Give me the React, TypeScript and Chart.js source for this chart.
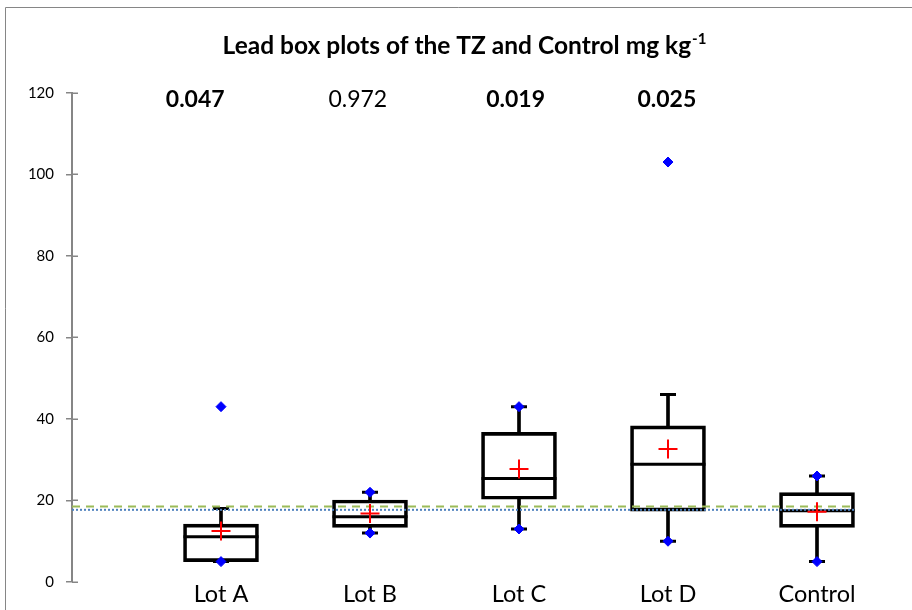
import React, { useEffect, useRef } from 'react';
import { Chart, registerables } from 'chart.js';

Chart.register(...registerables);

// ---- Data ----
const categories = ['Lot A', 'Lot B', 'Lot C', 'Lot D', 'Control'];
const q1 = [5, 13.4, 20.3, 17.4, 13.4];
const medians = [11.1, 16.0, 25.4, 28.9, 17.5];
const q3 = [14.2, 20.1, 36.7, 38.3, 21.9];
const whiskerLow = [5, 12, 13, 10, 5];
const whiskerHigh = [18, 22, 43, 46, 26];
const means = [12.5, 16.8, 27.7, 32.6, 17.2];
const minPoints = [5, 12, 13, 10, 5];
const maxPoints = [43, 22, 43, 103, 26];
const pValues = ['0.047', '0.972', '0.019', '0.025'];
const pSignificant = [true, false, true, true];
const refGreen = 18.5;
const refBlue = 17.7;
const refSpan = [0, 5.25];

const TITLE = 'Lead box plots of the TZ and Control mg kg';
const TITLE_SUP = '-1';
const FONT = 'Lato, "Open Sans", sans-serif';

const xy = (arr: number[]) => arr.map((v, i) => ({ x: i + 1, y: v }));
const range = (a: number[], b: number[]) => a.map((v, i) => ({ x: i + 1, y: [v, b[i]] }));

const decorPlugin = {
  id: 'decor',
  beforeDraw(chart: any) {
    const ctx = chart.ctx;
    ctx.save();
    ctx.fillStyle = '#ffffff';
    ctx.fillRect(0, 0, chart.width, chart.height);
    // outer chart frame (top and left edges visible)
    ctx.strokeStyle = '#868686';
    ctx.lineWidth = 1;
    ctx.beginPath();
    ctx.moveTo(5.5, chart.height);
    ctx.lineTo(5.5, 7.5);
    ctx.lineTo(chart.width, 7.5);
    ctx.stroke();
    ctx.restore();
  },
  afterDatasetsDraw(chart: any) {
    const ctx = chart.ctx;
    const xs = chart.scales.x;
    const ys = chart.scales.y;
    ctx.save();
    // inner half of the crossing tick marks
    ctx.strokeStyle = '#868686';
    ctx.lineWidth = 1.5;
    ys.ticks.forEach((t: any) => {
      const py = Math.round(ys.getPixelForValue(t.value)) + 0.25;
      ctx.beginPath();
      ctx.moveTo(xs.left, py);
      ctx.lineTo(xs.left + 6, py);
      ctx.stroke();
    });

    // title with superscript
    ctx.fillStyle = '#000000';
    ctx.textBaseline = 'alphabetic';
    ctx.textAlign = 'left';
    ctx.font = `bold 24.5px ${FONT}`;
    const w1 = ctx.measureText(TITLE).width;
    ctx.font = `bold 15px ${FONT}`;
    const w2 = ctx.measureText(TITLE_SUP).width;
    const start = 464 - (w1 + w2) / 2;
    ctx.font = `bold 24.5px ${FONT}`;
    ctx.fillText(TITLE, start, 53.5);
    ctx.font = `bold 15px ${FONT}`;
    ctx.fillText(TITLE_SUP, start + w1 + 1, 44);

    // p-value annotations above the boxes
    const offsets = [-0.173, -0.082, -0.023, -0.008];
    ctx.textAlign = 'center';
    pValues.forEach((p, i) => {
      ctx.font = `${pSignificant[i] ? 'bold ' : ''}23px ${FONT}`;
      const px = xs.getPixelForValue(i + 1 + offsets[i]);
      const py = ys.getPixelForValue(116.4);
      ctx.fillText(p, px, py);
    });
    ctx.restore();
  },
};

export default function App() {
  const canvasRef = useRef<HTMLCanvasElement | null>(null);

  useEffect(() => {
    document.body.style.margin = '0';
    const canvas = canvasRef.current;
    if (!canvas) return;
    const chart = new Chart(canvas, {
      type: 'bar',
      data: {
        datasets: [
          {
            type: 'bar',
            label: 'Box',
            data: range(q1, q3) as any,
            backgroundColor: 'rgba(0,0,0,0)',
            borderColor: '#000000',
            borderWidth: 3,
            borderSkipped: false,
            barThickness: 75,
            grouped: false,
            order: 6,
          } as any,
          {
            type: 'bar',
            label: 'Lower whisker',
            data: range(whiskerLow, q1) as any,
            backgroundColor: '#000000',
            borderWidth: 0,
            barThickness: 3,
            grouped: false,
            order: 6,
          } as any,
          {
            type: 'bar',
            label: 'Upper whisker',
            data: range(q3, whiskerHigh) as any,
            backgroundColor: '#000000',
            borderWidth: 0,
            barThickness: 3,
            grouped: false,
            order: 6,
          } as any,
          {
            type: 'scatter',
            label: 'Median',
            data: xy(medians),
            pointStyle: 'line',
            pointRadius: 37.5,
            pointBorderColor: '#000000',
            pointBorderWidth: 3,
            order: 5,
          } as any,
          {
            type: 'scatter',
            label: 'Whisker caps',
            data: [...xy(whiskerLow), ...xy(whiskerHigh)],
            pointStyle: 'line',
            pointRadius: 8,
            pointBorderColor: '#000000',
            pointBorderWidth: 3,
            order: 4,
          } as any,
          {
            type: 'line',
            label: 'Reference (dashed)',
            data: refSpan.map((x) => ({ x, y: refGreen })),
            borderColor: '#9BBB59',
            borderWidth: 2,
            borderDash: [8, 6],
            pointRadius: 0,
            order: 3,
          } as any,
          {
            type: 'line',
            label: 'Reference (dotted)',
            data: refSpan.map((x) => ({ x, y: refBlue })),
            borderColor: '#4F81BD',
            borderWidth: 2,
            borderDash: [2, 2],
            pointRadius: 0,
            order: 3,
          } as any,
          {
            type: 'scatter',
            label: 'Mean',
            data: xy(means),
            pointStyle: 'cross',
            pointRadius: 9.5,
            pointBorderColor: '#FF0000',
            pointBorderWidth: 2,
            order: 1,
          } as any,
          {
            type: 'scatter',
            label: 'Minimum / Maximum',
            data: [...xy(minPoints), ...xy(maxPoints)],
            pointStyle: 'rectRot',
            pointRadius: 5,
            pointBackgroundColor: '#0000FF',
            pointBorderColor: '#0000FF',
            pointBorderWidth: 1,
            order: 0,
          } as any,
        ],
      },
      options: {
        responsive: false,
        animation: false,
        events: [],
        layout: { autoPadding: false, padding: { top: 92.7, right: 20.5, bottom: 0, left: 0 } },
        plugins: {
          legend: { display: false },
          tooltip: { enabled: false },
          title: { display: false },
        },
        scales: {
          x: {
            type: 'linear',
            min: 0,
            max: 5.5,
            offset: false,
            grid: { display: false, drawTicks: false },
            border: { display: false },
            afterBuildTicks: (scale: any) => {
              scale.ticks = categories.map((_, i) => ({ value: i + 1 }));
            },
            afterFit: (scale: any) => {
              scale.height = 28;
            },
            ticks: {
              autoSkip: false,
              maxRotation: 0,
              padding: -2,
              color: '#000000',
              font: { family: FONT, size: 23.5 },
              callback: (value: any) => categories[Math.round(Number(value)) - 1] ?? '',
            },
          },
          y: {
            type: 'linear',
            min: 0,
            max: 120,
            grid: {
              display: true,
              drawOnChartArea: false,
              drawTicks: true,
              tickLength: 6,
              color: '#868686',
              lineWidth: 1.5,
            },
            border: { display: true, color: '#868686', width: 2 },
            afterFit: (scale: any) => {
              scale.width = 72;
            },
            ticks: {
              stepSize: 20,
              padding: 12,
              color: '#000000',
              font: { family: FONT, size: 15 },
            },
          },
        } as any,
      },
      plugins: [decorPlugin],
    });
    return () => chart.destroy();
  }, []);

  return (
    <div style={{ width: 912, height: 610, position: 'relative' }}>
      <canvas ref={canvasRef} width={912} height={610} style={{ display: 'block' }} />
    </div>
  );
}
